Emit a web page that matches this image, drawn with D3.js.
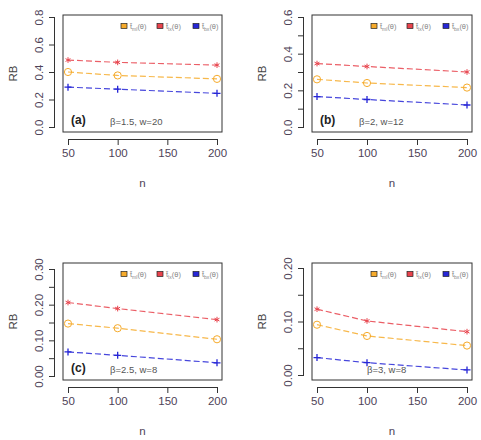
<!DOCTYPE html>
<html>
<head>
<meta charset="utf-8">
<title>RB panels</title>
<script src="https://d3js.org/d3.v7.min.js"></script>
<style>
  body { margin: 0; background: #fff; }
  text { font-family: "Liberation Sans", Arial, sans-serif; }
</style>
</head>
<body>
<script>
// sample sizes
var nVals = [50, 100, 200];
var xTicks = [50, 100, 150, 200];

// RB values per panel, one array per estimator
var mlA = [0.40, 0.375, 0.35];
var lxA = [0.487, 0.47, 0.45];
var bxA = [0.29, 0.275, 0.245];

var mlB = [0.26, 0.24, 0.215];
var lxB = [0.346, 0.33, 0.30];
var bxB = [0.166, 0.15, 0.12];

var mlC = [0.147, 0.134, 0.103];
var lxC = [0.206, 0.189, 0.158];
var bxC = [0.0675, 0.058, 0.037];

var mlD = [0.094, 0.073, 0.055];
var lxD = [0.123, 0.101, 0.081];
var bxD = [0.0325, 0.023, 0.0094];

var seriesNames = ["ml", "lx", "bx"];
var colors = ["#f6ab2c", "#e8434c", "#2626d6"];

var panels = [
  {tag: "(a)", note: "β=1.5, w=20", ml: mlA, lx: lxA, bx: bxA,
   yMax: 0.8, yStep: 0.2, labStep: 0.2, fmt: ".1f",
   box: [63, 15, 222, 132], yr: [127, 17]},
  {tag: "(b)", note: "β=2, w=12", ml: mlB, lx: lxB, bx: bxB,
   yMax: 0.6, yStep: 0.1, labStep: 0.2, fmt: ".1f",
   box: [312, 15, 472, 132], yr: [127, 17]},
  {tag: "(c)", note: "β=2.5, w=8", ml: mlC, lx: lxC, bx: bxC,
   yMax: 0.3, yStep: 0.05, labStep: 0.1, fmt: ".2f",
   box: [63, 263, 222, 380], yr: [376, 269]},
  {tag: "", note: "β=3, w=8", ml: mlD, lx: lxD, bx: bxD,
   yMax: 0.2, yStep: 0.05, labStep: 0.1, fmt: ".2f",
   box: [312, 263, 472, 380], yr: [375, 268]}
];

var svg = d3.select("body").append("svg")
  .attr("width", 481)
  .attr("height", 440);

var tickCol = "#4e4358";

panels.forEach(function(p, pi) {
  var L = p.box[0], T = p.box[1], R = p.box[2], B = p.box[3];
  var x = d3.scaleLinear().domain([50, 200]).range([L + 5, R - 5]);
  var y = d3.scaleLinear().domain([0, p.yMax]).range(p.yr);
  var g = svg.append("g");

  // box
  g.append("rect")
    .attr("x", L).attr("y", T)
    .attr("width", R - L).attr("height", B - T)
    .attr("fill", "none").attr("stroke", "#333").attr("stroke-width", 1);

  // y axis (R style: vertical labels)
  var yt = d3.range(0, p.yMax + 1e-9, p.yStep);
  var yAxis = d3.axisLeft(y).tickValues(yt).tickSize(6)
    .tickFormat(function(d) {
      var k = Math.round(d / p.labStep * 1000) / 1000;
      return Math.abs(k - Math.round(k)) < 1e-6 ? d3.format(p.fmt)(d) : "";
    });
  var ya = g.append("g").attr("transform", "translate(" + (L - 8) + ",0)").call(yAxis);
  ya.select(".domain").attr("d", "M-0.5," + y(0) + "V" + y(p.yMax)).attr("stroke", "#333");
  ya.selectAll(".tick line").attr("stroke", "#333");
  ya.selectAll(".tick text")
    .attr("x", 0).attr("dy", 0)
    .attr("transform", function() { return "translate(-12,0) rotate(-90)"; })
    .attr("text-anchor", "middle")
    .attr("font-size", 11.5).attr("fill", tickCol);

  // x axis
  var xAxis = d3.axisBottom(x).tickValues(xTicks).tickSize(6).tickFormat(d3.format("d"));
  var xa = g.append("g").attr("transform", "translate(0," + (B + 7) + ")").call(xAxis);
  xa.select(".domain").attr("d", "M" + x(50) + ",0.5H" + x(200)).attr("stroke", "#333");
  xa.selectAll(".tick line").attr("stroke", "#333");
  xa.selectAll(".tick text").attr("y", 10).attr("font-size", 11.5).attr("fill", tickCol);

  // axis titles
  g.append("text").attr("x", (L + R) / 2).attr("y", B + 55)
    .attr("text-anchor", "middle").attr("font-size", 11.5).attr("fill", tickCol).text("n");
  g.append("text")
    .attr("transform", "translate(" + (L - 46) + "," + ((T + B) / 2) + ") rotate(-90)")
    .attr("text-anchor", "middle").attr("font-size", 11.5).attr("fill", "#444").text("RB");

  // series
  var sets = [p.ml, p.lx, p.bx];
  sets.forEach(function(vals, si) {
    var pts = vals.map(function(v, i) { return [nVals[i], v]; });
    var line = d3.line().x(function(d) { return x(d[0]); }).y(function(d) { return y(d[1]); });
    g.append("path").attr("d", line(pts))
      .attr("fill", "none").attr("stroke", colors[si])
      .attr("stroke-width", 1.2).attr("stroke-dasharray", "6,3").attr("opacity", 0.85);
    var mk = g.selectAll(".m" + si).data(pts).enter().append("g")
      .attr("transform", function(d) { return "translate(" + x(d[0]) + "," + y(d[1]) + ")"; });
    if (si === 0) {
      mk.append("circle").attr("r", 3.6).attr("fill", "none")
        .attr("stroke", colors[si]).attr("stroke-width", 1);
    } else if (si === 1) {
      mk.append("path").attr("d", d3.symbol().type(d3.symbolAsterisk).size(22)())
        .attr("fill", "none").attr("stroke", colors[si]).attr("stroke-width", 1);
    } else {
      mk.append("path").attr("d", "M-3.5,0H3.5M0,-3.5V3.5")
        .attr("stroke", colors[si]).attr("stroke-width", 1.3);
    }
  });

  // legend
  var legX = [R - 101, R - 65, R - 29];
  var legY = T + 12;
  seriesNames.forEach(function(nm, si) {
    g.append("rect").attr("x", legX[si]).attr("y", legY - 3.5)
      .attr("width", 6).attr("height", 5)
      .attr("fill", colors[si]).attr("stroke", "#222").attr("stroke-width", 0.7);
    var t = g.append("text").attr("x", legX[si] + 9).attr("y", legY + 2)
      .attr("font-size", 7.5).attr("fill", "#888");
    t.append("tspan").text("t\u0302");
    t.append("tspan").attr("dy", 2).attr("font-size", 5).text(nm);
    t.append("tspan").attr("dy", -2).text("(θ)");
  });

  // annotations
  if (p.tag) {
    g.append("text").attr("x", L + 8).attr("y", B - 8)
      .attr("font-size", 12).attr("font-weight", "bold").attr("fill", "#222").text(p.tag);
  }
  g.append("text").attr("x", pi === 3 ? L + 55 : L + 47).attr("y", B - 7)
    .attr("font-size", 9.5).attr("fill", "#555").text(p.note);
});
</script>
</body>
</html>
